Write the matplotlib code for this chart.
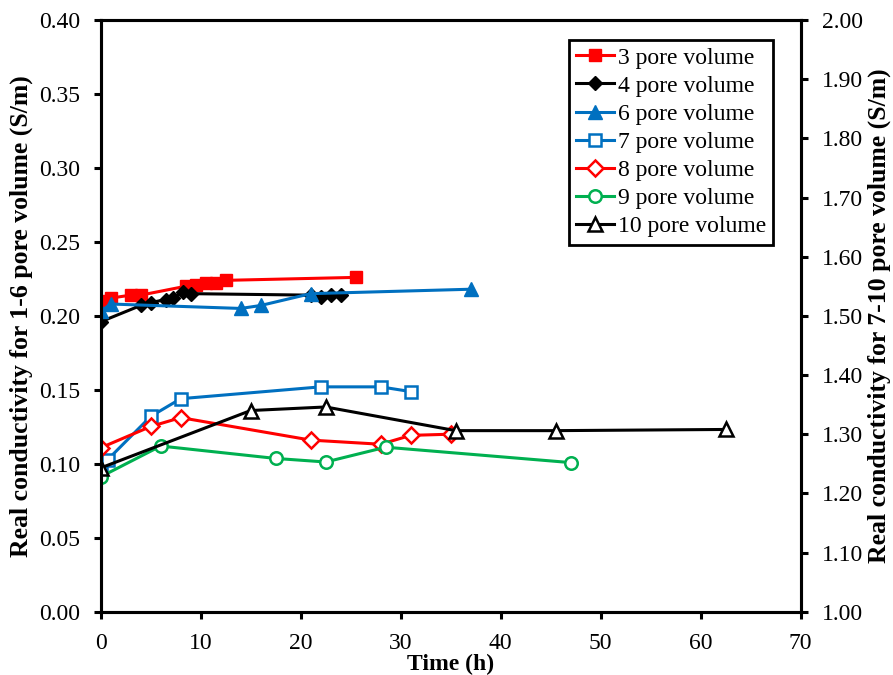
import matplotlib
matplotlib.use("Agg")
import matplotlib.pyplot as plt

plt.rcParams['font.family'] = ['Liberation Serif', 'DejaVu Serif']
plt.rcParams['mathtext.fontset'] = 'stix'

# Left axis series (1-6 pore volume), S/m
t3 = [0, 1.0, 3.0, 4.0, 8.5, 9.5, 10.5, 11.5, 12.5, 25.5]
c3 = [0.210, 0.212, 0.214, 0.214, 0.220, 0.221, 0.222, 0.222, 0.224, 0.226]

t4 = [0, 4.0, 5.0, 6.5, 7.2, 8.2, 9.0, 21.0, 22.0, 23.0, 24.0]
c4 = [0.196, 0.207, 0.209, 0.211, 0.212, 0.216, 0.215, 0.214, 0.213, 0.214, 0.214]

t6 = [0, 1.0, 14.0, 16.0, 21.0, 37.0]
c6 = [0.203, 0.208, 0.205, 0.207, 0.215, 0.218]

# Right axis series (7-10 pore volume), S/m
t7 = [0, 0.7, 5.0, 8.0, 22.0, 28.0, 31.0]
c7 = [1.250, 1.257, 1.330, 1.360, 1.380, 1.380, 1.372]

t8 = [0, 5.0, 8.0, 21.0, 28.0, 31.0, 35.0]
c8 = [1.277, 1.313, 1.328, 1.290, 1.283, 1.298, 1.300]

t9 = [0, 6.0, 17.5, 22.5, 28.5, 47.0]
c9 = [1.228, 1.280, 1.259, 1.253, 1.278, 1.252]

t10 = [0, 15.0, 22.5, 35.5, 45.5, 62.5]
c10 = [1.243, 1.340, 1.346, 1.306, 1.306, 1.308]

left_ticks = [0.00, 0.05, 0.10, 0.15, 0.20, 0.25, 0.30, 0.35, 0.40]
right_ticks = [1.00, 1.10, 1.20, 1.30, 1.40, 1.50, 1.60, 1.70, 1.80, 1.90, 2.00]
x_ticks = [0, 10, 20, 30, 40, 50, 60, 70]

RED = '#FF0000'
BLUE = '#0070C0'
GREEN = '#00B050'
BLACK = '#000000'

W, H = 893, 675
fig = plt.figure(figsize=(W / 100, H / 100), dpi=100)
ax = fig.add_axes([100.7 / W, 1 - 611.7 / H, 700 / W, 591.7 / H])
ax2 = ax.twinx()

lw = 2.2
h3, = ax.plot(t3, c3, color=RED, lw=lw, marker='s', ms=8.5, mfc=RED, mec=RED,
              label='3 pore volume')
h4, = ax.plot(t4, c4, color=BLACK, lw=lw, marker='D', ms=7, mfc=BLACK, mec=BLACK,
              label='4 pore volume')
h6, = ax.plot(t6, c6, color=BLUE, lw=lw, marker='^', ms=9.5, mfc=BLUE, mec=BLUE,
              label='6 pore volume')

h7, = ax2.plot(t7, c7, color=BLUE, lw=lw, marker='s', ms=9, mfc='white', mec=BLUE,
               mew=1.8, label='7 pore volume')
h8, = ax2.plot(t8, c8, color=RED, lw=lw, marker='D', ms=8, mfc='white', mec=RED,
               mew=1.8, label='8 pore volume')
h9, = ax2.plot(t9, c9, color=GREEN, lw=lw, marker='o', ms=9, mfc='white', mec=GREEN,
               mew=1.8, label='9 pore volume')
h10, = ax2.plot(t10, c10, color=BLACK, lw=lw, marker='^', ms=9.5, mfc='white', mec=BLACK,
                mew=1.8, label='10 pore volume')

ax.set_xlim(0, 70)
ax.set_ylim(0, 0.40)
ax2.set_ylim(1.0, 2.0)
ax.set_xticks(x_ticks)
ax.set_yticks(left_ticks)
ax.set_yticklabels([f'{v:.2f}' for v in left_ticks])
ax2.set_yticks(right_ticks)
ax2.set_yticklabels([f'{v:.2f}' for v in right_ticks])

for a in (ax, ax2):
    for s in a.spines.values():
        s.set_linewidth(2.2)
    a.tick_params(axis='both', which='major', direction='out', length=5, width=2.2,
                  labelsize=17, pad=10)

ax.set_xlabel('Time (h)', fontsize=17, fontweight='bold', labelpad=0)
ax.set_ylabel('Real conductivity for 1-6 pore volume (S/m)', fontsize=18.5,
              fontweight='bold', rotation=90, ha='center', va='center')
ax2.set_ylabel('Real conductivity for 7-10 pore volume (S/m)', fontsize=18.5,
               fontweight='bold', rotation=90, ha='center', va='center')
ax.yaxis.set_label_coords((21 - 100.7) / 700, 0.5)
ax2.yaxis.set_label_coords((879 - 100.7) / 700, 0.5)

leg = ax2.legend(handles=[h3, h4, h6, h7, h8, h9, h10], loc='upper right',
                 bbox_to_anchor=((773 - 100.7) / 700, (611.7 - 40) / 591.7),
                 fontsize=17, frameon=True,
                 fancybox=False, edgecolor='black', framealpha=1,
                 handlelength=1.6, handletextpad=0.15, labelspacing=0.28,
                 borderpad=0.3, borderaxespad=0)
leg.get_frame().set_linewidth(2)

fig.savefig('out.png', dpi=100)
